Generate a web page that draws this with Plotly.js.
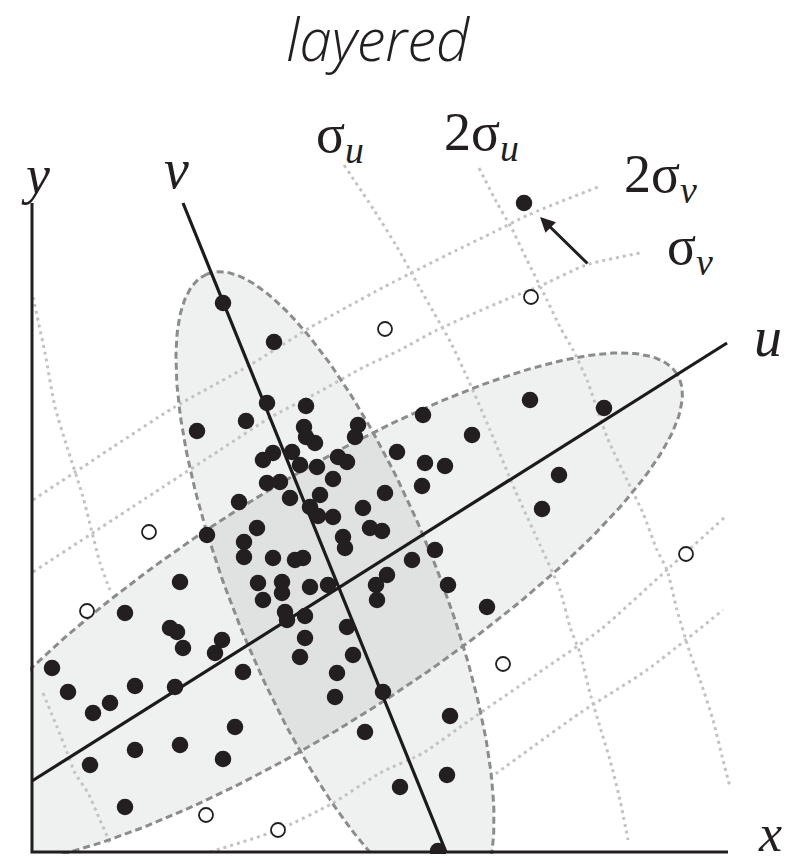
<!DOCTYPE html>
<html>
<head>
<meta charset="utf-8">
<script src="https://cdn.plot.ly/plotly-3.0.1.min.js"></script>
<style>html,body{margin:0;padding:0;background:#fff;}#chart{width:792px;height:863px;}</style>
</head>
<body>
<div id="chart"></div>
<script>
// ---- data (x, y in chart units; origin at the x/y axes corner) ----
const filledX = [49.2,19.1,24.2,23.5,16.5,21.4,27.4,27.2,27.4,28.3,
  32.6,32.3,39.1,44.0,49.8,57.2,52.7,51.0,36.5,39.3,
  41.3,39.0,35.3,33.8,35.0,33.1,30.6,31.5,23.1,24.1,
  26.0,26.8,28.5,23.5,24.8,25.8,28.8,30.1,27.8,28.6,
  30.1,20.7,17.5,22.5,21.2,21.2,24.1,26.3,27.1,31.1,
  31.3,40.3,38.0,35.5,34.4,34.5,41.6,45.5,29.6,27.8,
  14.8,22.6,25.0,25.0,23.1,25.3,25.5,27.3,13.8,14.5,
  15.1,19.0,18.3,27.3,26.8,31.5,32.1,21.1,14.3,30.5,
  30.3,35.1,33.3,41.8,41.5,36.8,40.6,2.0,3.6,6.1,
  7.8,10.3,9.3,5.8,10.3,14.8,20.3,19.1,9.3];
const filledY = [64.9,54.9,51.0,44.9,42.1,43.1,44.6,42.5,41.5,40.9,
  42.7,41.5,43.7,41.7,45.2,44.4,37.7,34.3,40.0,38.9,
  38.6,36.6,35.9,32.4,32.1,34.4,39.5,39.0,39.2,39.9,
  40.0,38.7,38.5,36.9,37.0,35.4,35.7,37.3,34.5,33.6,
  33.5,35.0,31.7,32.4,31.0,29.5,29.4,29.2,29.4,31.5,
  30.4,30.2,29.2,27.7,26.7,25.2,26.7,24.5,26.7,26.5,
  27.0,26.9,27.0,25.9,25.2,24.0,23.2,23.6,22.4,22.0,
  20.4,21.2,19.9,21.4,19.5,22.5,19.7,18.0,16.5,17.9,
  15.5,16.0,12.0,13.6,7.7,6.5,0.1,18.4,16.0,13.9,
  14.9,16.6,23.9,8.7,10.2,10.7,12.5,9.3,4.5];
const openX = [49.9,35.3,11.7,5.5,65.4,47.1,17.4,24.6];
const openY = [55.5,52.3,32.0,24.1,29.8,18.8,3.7,2.2];

// principal axes (end points)
const uAxisX = [0, 69.5];
const uAxisY = [7.1, 50.9];
const vAxisX = [15.1, 41.4];
const vAxisY = [64.9, 0];

// dotted sigma grid lines
const gridA1X = [0.1,8.1,14.1,21.8,27.9,31.5,35.2,38.9,42.5,46.2,49.6,56.6];
const gridA1Y = [35.2,40.5,44.4,48.7,52.5,54.5,56.5,58.4,60.2,62.0,63.7,66.5];
const gridA2X = [0.1,13.1,18.8,23.9,28.5,33.2,36.8,40.5,48.0,50.6,55.4,60.8];
const gridA2Y = [28.0,36.5,40.2,43.5,45.9,48.5,50.2,52.2,55.5,56.5,58.7,59.9];
const gridA3X = [17.8,24.6,30.1,34.8,39.1,43.8,51.5,56.8,63.8,69.3];
const gridA3Y = [0,2.2,4.9,7.9,9.9,13.2,18.5,22.2,28.5,33.5];
const gridA4X = [45.8,54.8,61.5,69.1];
const gridA4Y = [7.4,13.9,18.2,24.2];
const gridB1X = [31.2,34.2,36.5,38.5,40.2,41.9,43.5,45.8,48.3,50.8,52.8,53.8,54.8,55.8,56.8,57.8,58.8,59.6];
const gridB1Y = [68.7,64.2,60.5,56.9,53.9,50.9,47.5,42.2,36.2,30.7,26.2,22.5,19.9,15.9,12.5,9.2,5.2,1.2];
const gridB2X = [44.7,46.5,47.9,49.5,51.5,52.8,54.1,55.5,57.5,59.5,61.1,62.5,63.5,64.5,65.8,66.8,68.1,69.1,69.8];
const gridB2Y = [68.4,64.9,62.5,59.2,55.2,52.5,50.2,47.2,41.5,37.2,33.9,30.2,28.2,24.2,19.9,17.2,13.2,9.2,6.5];
const gridB3X = [0.1,1.3,2.3,3.5,5.1,6.8,7.8];
const gridB3Y = [55.5,49.9,44.5,40.5,35.5,28.9,26.2];
const gridB4X = [1.1,2.5,3.3,4.3,5.6,6.8,7.8];
const gridB4Y = [15.9,12.5,10.5,7.9,5.9,3.2,0.9];

// ellipse parameters: [centre x, centre y, semi-major, semi-minor, angle deg]
const ellipseU = [27.3, 24.3, 44, 12.0, 32.3];
const ellipseV = [30.3, 26.3, 34, 10.2, 112.1];

// ---- drawing ----
function ellipsePath(p){
  const [cx,cy,a,b,ang] = p; const t = ang*Math.PI/180;
  const xs=[], ys=[];
  for(let i=0;i<=240;i++){
    const s = 2*Math.PI*i/240;
    const ex = a*Math.cos(s), ey = b*Math.sin(s);
    xs.push(cx + ex*Math.cos(t) - ey*Math.sin(t));
    ys.push(cy + ex*Math.sin(t) + ey*Math.cos(t));
  }
  return {x:xs, y:ys};
}
const eU = ellipsePath(ellipseU), eV = ellipsePath(ellipseV);
const ink = '#231f20';
const fillCol = 'rgba(110,115,115,0.11)';
const traces = [];
traces.push({x:eU.x, y:eU.y, mode:'lines', fill:'toself', fillcolor:fillCol, line:{width:0}, hoverinfo:'skip'});
traces.push({x:eV.x, y:eV.y, mode:'lines', fill:'toself', fillcolor:fillCol, line:{width:0}, hoverinfo:'skip'});
[[gridA1X,gridA1Y],[gridA2X,gridA2Y],[gridA3X,gridA3Y],[gridA4X,gridA4Y],
 [gridB1X,gridB1Y],[gridB2X,gridB2Y],[gridB3X,gridB3Y],[gridB4X,gridB4Y]].forEach(g=>{
  traces.push({x:g[0], y:g[1], mode:'lines',
    line:{color:'#c3c3c3', width:3, dash:'3px,4px', shape:'spline', smoothing:0.6}, hoverinfo:'skip'});
});
traces.push({x:eU.x, y:eU.y, mode:'lines', line:{color:'#8c8c8c', width:3, dash:'7px,4px'}, hoverinfo:'skip'});
traces.push({x:eV.x, y:eV.y, mode:'lines', line:{color:'#8c8c8c', width:3, dash:'7px,4px'}, hoverinfo:'skip'});
// coordinate axes
traces.push({x:[0,0,69.6], y:[64.9,0,0], mode:'lines', line:{color:ink, width:3}, hoverinfo:'skip'});
// principal axes
traces.push({x:uAxisX, y:uAxisY, mode:'lines', line:{color:'#1c1a1b', width:3.2}, hoverinfo:'skip'});
traces.push({x:vAxisX, y:vAxisY, mode:'lines', line:{color:'#1c1a1b', width:3.2}, hoverinfo:'skip'});
// points
traces.push({x:filledX, y:filledY, mode:'markers', marker:{size:16.5, color:ink, line:{width:0}}, hoverinfo:'skip'});
traces.push({x:openX, y:openY, mode:'markers', marker:{size:14, color:'#ffffff', line:{color:ink, width:1.8}}, hoverinfo:'skip'});

const serif = 'Liberation Serif, DejaVu Serif, serif';
function lab(x,y,text,size,italic){
  return {x:x, y:y, xref:'x', yref:'y', text:text, showarrow:false, xanchor:'center', yanchor:'middle',
    font:{family:serif, size:size, color:ink, style: italic?'italic':'normal'}};
}
const annotations = [
  lab(0.3, 67.7, 'y', 54, true),
  lab(14.4, 68.3, 'v', 56, true),
  lab(73.6, 51.5, 'u', 56, true),
  lab(73.8, 1.9, 'x', 52, true),
  lab(30.8, 71.5, 'σ<sub><i>u</i></sub>', 54, false),
  lab(44.9, 71.7, '2σ<sub><i>u</i></sub>', 54, false),
  lab(62.8, 67.5, '2σ<sub><i>v</i></sub>', 54, false),
  lab(65.8, 60.3, 'σ<sub><i>v</i></sub>', 54, false),
  {x:50.8, y:63.5, xref:'x', yref:'y', ax:49, ay:48, axref:'pixel', ayref:'pixel', text:'', showarrow:true,
   arrowhead:2, arrowsize:1, arrowwidth:3, arrowcolor:ink, standoff:0}
];

const layout = {
  width:792, height:863,
  margin:{l:30, r:0, t:100, b:9, pad:0},
  paper_bgcolor:'#ffffff', plot_bgcolor:'#ffffff',
  showlegend:false, hovermode:false,
  xaxis:{range:[-0.2,76], visible:false, showgrid:false, zeroline:false, fixedrange:true},
  yaxis:{range:[-0.2,75.2], visible:false, showgrid:false, zeroline:false, fixedrange:true},
  title:{text:'layered', x:0.477, xanchor:'center', y:0.953, yanchor:'middle', xref:'container', yref:'container',
    font:{family:'Open Sans, Lato, sans-serif', size:58, style:'italic', weight:300, color:ink}},
  annotations: annotations
};
Plotly.newPlot('chart', traces, layout, {displayModeBar:false, staticPlot:true});
</script>
</body>
</html>
